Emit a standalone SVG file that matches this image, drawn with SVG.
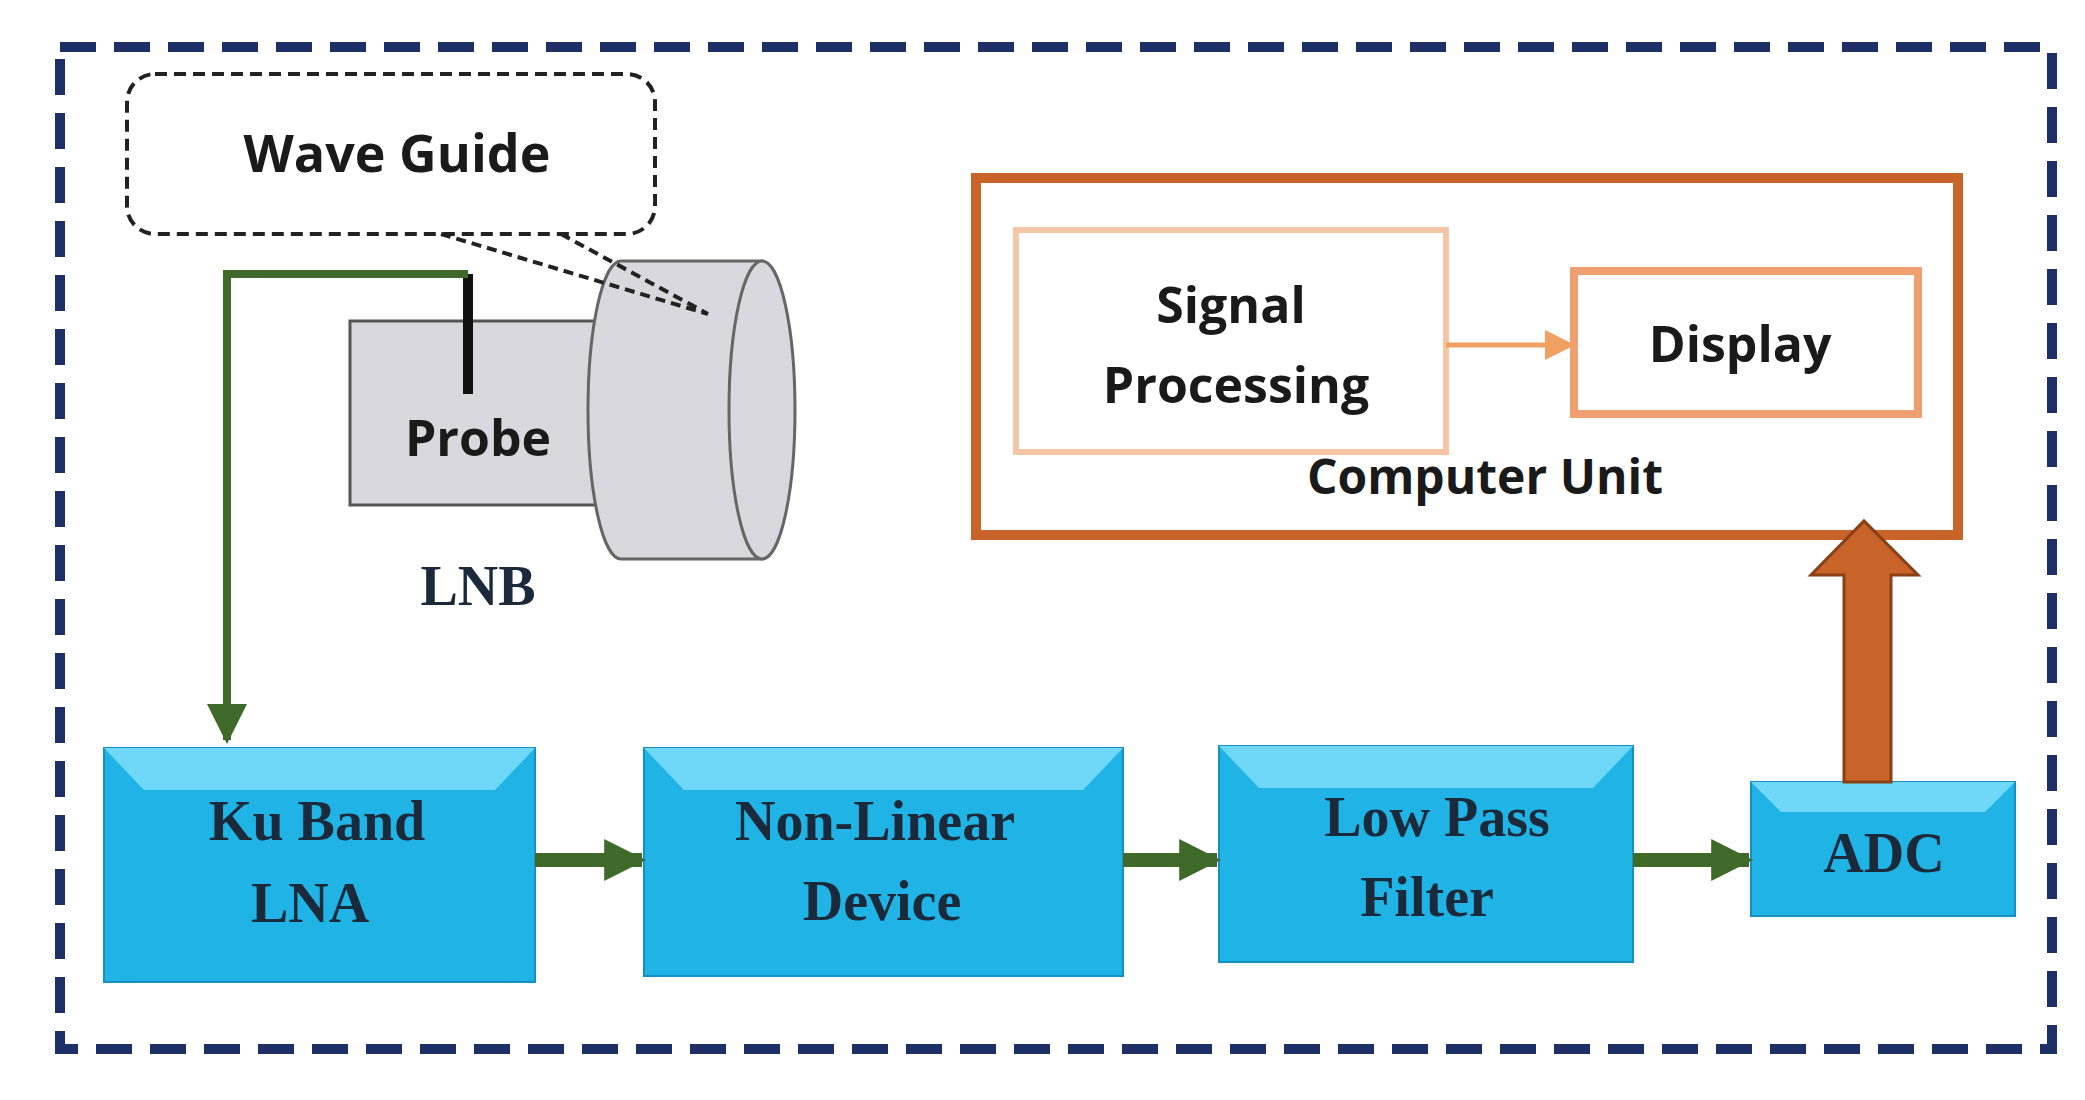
<svg xmlns="http://www.w3.org/2000/svg" width="2085" height="1100" viewBox="0 0 2085 1100">
<style>
.sans{font-family:"Open Sans","Liberation Sans",sans-serif;font-weight:bold;fill:#1a1a1a;text-anchor:middle}
.serif{font-family:"Liberation Serif",serif;font-weight:bold;fill:#1a2a3a;text-anchor:middle;font-size:56px}
.blue{fill:#20b4e6;stroke:#1590c0;stroke-width:2}
.bev{fill:#6fd8f8}
.ga{stroke:#3f6a2a;stroke-width:14;fill:none}
</style>
<defs>
<marker id="gh" viewBox="0 0 10 10" refX="9" refY="5" markerWidth="3" markerHeight="3" orient="auto"><path d="M0,0L10,5L0,10z" fill="#3f6a2a"/></marker>
<marker id="gh2" viewBox="0 0 10 10" refX="9" refY="5" markerWidth="5" markerHeight="5" orient="auto"><path d="M0,0L10,5L0,10z" fill="#3f6a2a"/></marker>
<marker id="oh" viewBox="0 0 10 10" refX="9" refY="5" markerWidth="6" markerHeight="6" orient="auto"><path d="M0,0L10,5L0,10z" fill="#f0a060"/></marker>
</defs>
<rect width="2085" height="1100" fill="#fff"/>
<rect x="60" y="47" width="1992" height="1002" fill="none" stroke="#1c2f66" stroke-width="10" stroke-dasharray="36,18"/>
<g id="waveguide">
<rect x="127" y="74" width="528" height="160" rx="28" fill="#fff" stroke="#222" stroke-width="4" stroke-dasharray="12,7"/>
<text class="sans" x="397" y="172" font-size="52">Wave Guide</text>
</g>
<g id="lnb">
<rect x="350" y="321" width="278" height="184" fill="#d8d8de" stroke="#555" stroke-width="3"/>
<path d="M621,261 H762 V559 H621 A33,149 0 0 1 621,261 Z" fill="#d8d8de" stroke="#666" stroke-width="3"/>
<ellipse cx="762" cy="410" rx="33" ry="149" fill="#d8d8de" stroke="#666" stroke-width="3"/>
<line x1="468" y1="274" x2="468" y2="394" stroke="#111" stroke-width="10"/>
<text class="sans" x="478" y="456" font-size="50">Probe</text>
<text class="serif" x="478" y="605" font-size="52">LNB</text>
</g>
<g id="computer">
<rect x="976" y="178" width="982" height="357" fill="#fff" stroke="#c8642a" stroke-width="10"/>
<rect x="1016" y="230" width="430" height="222" fill="#fff" stroke="#f3c6a6" stroke-width="6"/>
<rect x="1574" y="271" width="344" height="143" fill="#fff" stroke="#f0a070" stroke-width="8"/>
<text class="sans" x="1231" y="323" font-size="50">Signal</text>
<text class="sans" x="1236" y="403" font-size="50">Processing</text>
<text class="sans" x="1740" y="362" font-size="50">Display</text>
<text class="sans" x="1485" y="494" font-size="48">Computer Unit</text>
</g>
<g id="blocks">
<g id="ku"><rect class="blue" x="104" y="748" width="431" height="234"/><path class="bev" d="M104,748H535L495,790H144Z"/><text class="serif" x="317" y="840">Ku Band</text><text class="serif" x="310" y="922">LNA</text></g>
<g id="nl"><rect class="blue" x="644" y="748" width="479" height="228"/><path class="bev" d="M644,748H1123L1083,790H684Z"/><text class="serif" x="875" y="840">Non-Linear</text><text class="serif" x="882" y="920">Device</text></g>
<g id="lp"><rect class="blue" x="1219" y="746" width="414" height="216"/><path class="bev" d="M1219,746H1633L1593,788H1259Z"/><text class="serif" x="1437" y="836">Low Pass</text><text class="serif" x="1427" y="916">Filter</text></g>
<g id="adc"><rect class="blue" x="1751" y="782" width="264" height="134"/><path class="bev" d="M1751,782H2015L1985,812H1781Z"/><text class="serif" x="1884" y="872">ADC</text></g>
</g>
<g id="connectors">
<path d="M441,234L708,314M561,234L708,314" stroke="#222" stroke-width="4" stroke-dasharray="10,6" fill="none"/>
<path d="M468,274H227V740" stroke="#3f6a2a" stroke-width="8" fill="none" marker-end="url(#gh2)"/>
<line class="ga" x1="535" y1="860" x2="642" y2="860" marker-end="url(#gh)"/>
<line class="ga" x1="1123" y1="860" x2="1217" y2="860" marker-end="url(#gh)"/>
<line class="ga" x1="1633" y1="860" x2="1749" y2="860" marker-end="url(#gh)"/>
<line x1="1446" y1="345" x2="1572" y2="345" stroke="#f0a060" stroke-width="5" marker-end="url(#oh)"/>
<path d="M1844,782V575H1811L1864,521L1918,575H1891V782Z" fill="#c8642a" stroke="#8a3f15" stroke-width="3"/>
</g>
</svg>
